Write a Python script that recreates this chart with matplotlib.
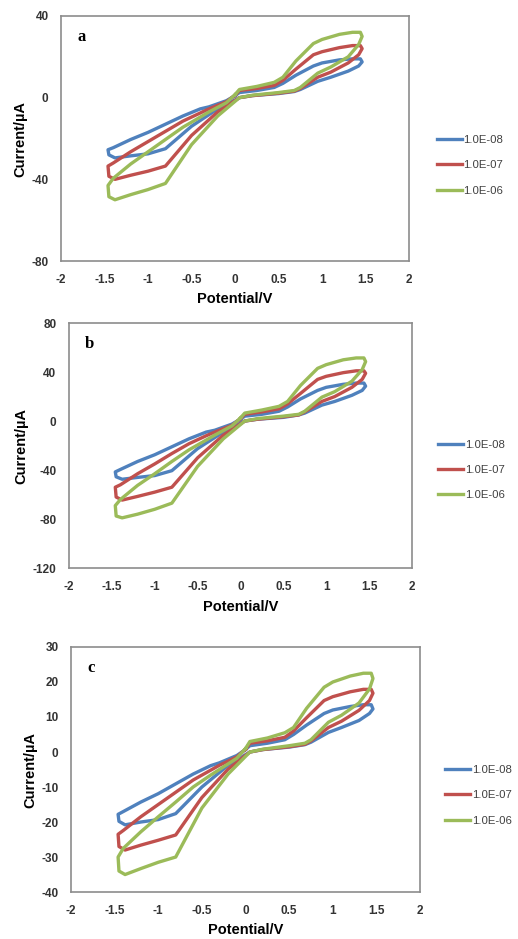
import matplotlib
matplotlib.use("Agg")
import matplotlib.pyplot as plt

# cyclic sweep potentials (V), shared by every curve
potential = [0.0, 0.05, 0.25, 0.45, 0.55, 0.7, 0.9, 1.0, 1.2, 1.35, 1.44, 1.46, 1.42, 1.3,
             1.1, 0.95, 0.75, 0.68, 0.5, 0.2, 0.05, -0.2, -0.5, -0.8, -1.0, -1.2, -1.38,
             -1.45, -1.46, -1.4, -1.2, -1.0, -0.8, -0.6, -0.4, -0.3, -0.1, 0.0]

labels = ["1.0E-08", "1.0E-07", "1.0E-06"]

# panel a currents (uA)
a_1e8 = [1, 2.5, 3.5, 5, 7, 11, 15.5, 17, 18.5, 19, 19, 17.5, 15.5, 13, 10, 8, 4, 3, 2, 1, 0,
         -5.5, -14, -25, -27.5, -28.5, -29.5, -28, -25.5, -24.5, -20.5, -17, -13, -9, -5.5,
         -4.5, -1.5, 1]
a_1e7 = [1.2, 3.5, 4.5, 6, 8.5, 14, 21, 22.5, 24.5, 25.5, 25.5, 24, 21, 17, 12.5, 10, 4.5,
         3.2, 2.2, 1, 0, -7, -18.5, -33.5, -36, -38, -40, -38.5, -33.5, -32, -26.5, -21.5,
         -16.5, -11.5, -7.5, -5.5, -2, 1.2]
a_1e6 = [1.5, 4, 5.5, 7.5, 10, 18, 26.5, 28.5, 31, 32, 32, 30, 26, 20, 15, 12, 5, 3.5, 2.5,
         1.2, 0, -9, -23, -42, -45, -47.5, -50, -48.5, -43, -39.5, -32.5, -26.5, -20.5,
         -14.5, -9.5, -7, -2.5, 1.5]

# panel b currents (uA)
b_1e8 = [1.5, 4, 5.5, 8, 11.5, 18, 25, 27.5, 30, 31, 31, 28.5, 25, 21, 16, 13, 6.5, 5, 3,
         1.5, 0, -9, -22.5, -40.5, -44.5, -46, -47.5, -45.5, -41.5, -39.5, -33, -27.5, -21,
         -14.5, -9, -7.5, -2.5, 1.5]
b_1e7 = [2, 5.5, 7.5, 10, 14, 22.5, 34, 36.5, 39.5, 41, 41, 39, 34, 27.5, 20, 16, 7.5, 5,
         3.5, 1.5, 0, -11.5, -30, -54, -58, -61.5, -64.5, -62, -54, -52, -43, -35, -26.5,
         -18.5, -12, -9, -3.5, 2]
b_1e6 = [2.5, 6.5, 9, 12, 16, 29, 43, 46, 50, 51.5, 51.5, 48.5, 42, 32.5, 24, 19.5, 8, 5.5,
         4, 2, 0, -14.5, -37, -67, -72, -76, -79, -77.5, -69, -64, -52.5, -43, -33, -23.5,
         -15.5, -11.5, -4, 2.5]

# panel c currents (uA)
c_1e8 = [0.7, 1.8, 2.5, 3.5, 5, 7.7, 11, 12, 13, 13.5, 13.5, 12.3, 11, 9, 7, 5.6, 2.8, 2.1,
         1.4, 0.7, 0, -3.8, -10, -17.6, -19.3, -20, -20.8, -19.8, -17.8, -17, -14.3, -11.9,
         -9.1, -6.3, -3.9, -3.1, -1, 0.7]
c_1e7 = [0.8, 2.5, 3.2, 4.2, 6, 9.8, 14.7, 15.8, 17.2, 17.9, 17.9, 16.8, 14.7, 11.9, 8.8, 7,
         3.2, 2.2, 1.5, 0.7, 0, -4.9, -13, -23.7, -25.2, -26.6, -28, -27, -23.5, -22.4, -18.5,
         -15, -11.5, -8, -5.2, -3.8, -1.4, 0.8]
c_1e6 = [1, 3, 4, 5.5, 7, 12.5, 18.5, 20, 21.7, 22.5, 22.5, 21, 18, 14, 10.5, 8.5, 3.5, 2.5,
         1.8, 0.8, 0, -6.3, -16, -30, -31.5, -33.3, -35, -34, -30, -27.5, -22.8, -18.5, -14.3,
         -10, -6.6, -5, -1.8, 1]

colors = ["#4F81BD", "#C0504D", "#9BBB59"]
x_ticks = [-2, -1.5, -1, -0.5, 0, 0.5, 1, 1.5, 2]
x_ticklabels = ["-2", "-1.5", "-1", "-0.5", "0", "0.5", "1", "1.5", "2"]

plt.rcParams["font.family"] = ["Liberation Sans", "DejaVu Sans"]
plt.rcParams["axes.unicode_minus"] = False

fig = plt.figure(figsize=(5.18, 9.39), dpi=100)

panels = [
    # letter, series, ylim, yticks, axes rect, legend anchor
    ("a", [a_1e8, a_1e7, a_1e6], (-80, 40), [-80, -40, 0, 40],
     [0.1178, 0.722, 0.672, 0.261], (0.834, 0.824)),
    ("b", [b_1e8, b_1e7, b_1e6], (-120, 80), [-120, -80, -40, 0, 40, 80],
     [0.1332, 0.395, 0.662, 0.261], (0.837, 0.4995)),
    ("c", [c_1e8, c_1e7, c_1e6], (-40, 30), [-40, -30, -20, -10, 0, 10, 20, 30],
     [0.137, 0.050, 0.674, 0.261], (0.851, 0.153)),
]

for letter, series, ylim, yticks, rect, leg_pos in panels:
    ax = fig.add_axes(rect)
    for cur, col, lab in zip(series, colors, labels):
        ax.plot(potential, cur, color=col, lw=2.4, label=lab, solid_joinstyle="round")
    ax.set_xlim(-2, 2)
    ax.set_ylim(*ylim)
    ax.set_xticks(x_ticks)
    ax.set_xticklabels(x_ticklabels)
    ax.set_yticks(yticks)
    ax.tick_params(length=0, pad=9, labelsize=8.5, labelcolor="#333333")
    for t in ax.get_xticklabels() + ax.get_yticklabels():
        t.set_fontweight("bold")
    for sp in ax.spines.values():
        sp.set_color("#8c8c8c")
        sp.set_linewidth(1.2)
    ax.set_xlabel("Potential/V", fontsize=10.5, fontweight="bold", labelpad=5)
    ax.set_ylabel("Current/µA", fontsize=10.5, fontweight="bold", labelpad=3)
    ax.text(0.046, 0.915, letter, transform=ax.transAxes, fontsize=12,
            fontweight="bold", family="Liberation Serif", va="center")
    ax.legend(loc="center left", bbox_to_anchor=leg_pos, bbox_transform=fig.transFigure,
              frameon=False, fontsize=8.2, labelcolor="#404040", handlelength=2.2,
              handletextpad=0.15, labelspacing=1.35, borderaxespad=0)

fig.savefig("out.png", dpi=100)
